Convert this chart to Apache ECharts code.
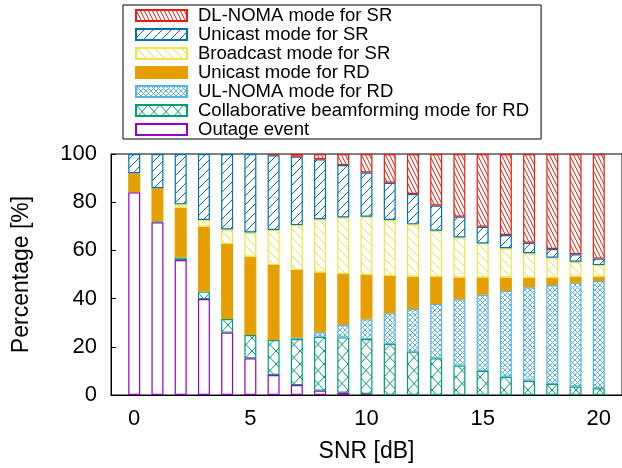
<!DOCTYPE html>
<html>
<head>
<meta charset="utf-8">
<script src="https://cdn.jsdelivr.net/npm/echarts@6/dist/echarts.min.js"></script>
<style>
  html, body { margin: 0; padding: 0; background: #fff; }
  #chart { width: 622px; height: 468px; }
</style>
</head>
<body>
<div id="chart"></div>
<script>
// SNR values (x axis)
const snr = [0, 1, 2, 3, 4, 5, 6, 7, 8, 9, 10, 11, 12, 13, 14, 15, 16, 17, 18, 19, 20];
const xTickLabels = ['0', '5', '10', '15', '20'];

// percentage of each mode (bottom to top of the stack)
const outage      = [84.1, 71.7, 56.0, 39.8, 25.9, 15.2, 8.3, 4.1, 1.8, 1.0, 0.4, 0, 0, 0, 0, 0, 0, 0, 0, 0, 0];
const collab      = [0, 0.3, 1.1, 3.1, 5.6, 9.7, 14.5, 19.1, 22.4, 22.9, 22.8, 21.2, 18.0, 15.2, 12.2, 10.0, 7.6, 5.9, 4.6, 3.5, 2.8];
const ulNoma      = [0, 0, 0, 0, 0, 0, 0, 0.6, 1.8, 5.1, 8.2, 12.7, 17.7, 22.6, 27.5, 31.6, 35.6, 38.8, 41.0, 43.1, 44.5];
const unicastRD   = [7.9, 13.8, 20.6, 26.9, 31.2, 32.5, 31.1, 28.1, 24.8, 21.2, 18.4, 15.6, 13.4, 11.3, 9.1, 7.2, 5.6, 4.0, 3.1, 2.5, 1.8];
const broadcastSR = [0, 0, 1.4, 2.8, 6.0, 10.0, 14.6, 18.6, 22.1, 23.5, 24.2, 23.1, 21.7, 19.1, 16.6, 14.1, 12.1, 10.1, 8.3, 6.2, 4.8];
const unicastSR   = [8.0, 14.2, 20.9, 27.4, 31.3, 32.6, 31.0, 28.4, 24.9, 21.7, 18.3, 15.5, 12.6, 10.4, 8.6, 6.9, 5.5, 4.4, 3.6, 3.1, 2.7];
const dlNoma      = [0, 0, 0, 0, 0, 0, 0.5, 1.1, 2.2, 4.6, 7.7, 11.9, 16.6, 21.4, 26.0, 30.2, 33.6, 36.8, 39.4, 41.6, 43.4];

const FONT = '"Liberation Sans", Arial, sans-serif';

// the axis runs from -1 to 21, so one empty slot is added at each end
const categories = ['-1'].concat(snr.map(String), ['21']);
const pad = arr => [null].concat(arr.map(v => (v > 0 ? v : null)), [null]);

// hatch pattern tile (w x h): dirs contains '/' and/or '\\'
function hatch(color, w, h, dirs, lw) {
  const c = document.createElement('canvas');
  c.width = w;
  c.height = h;
  const ctx = c.getContext('2d');
  ctx.fillStyle = '#fff';
  ctx.fillRect(0, 0, w, h);
  ctx.strokeStyle = color;
  ctx.lineWidth = lw || 1;
  ctx.beginPath();
  for (const k of [-w, 0, w]) {
    if (dirs.indexOf('/') >= 0) {
      ctx.moveTo(k, h);
      ctx.lineTo(k + w, 0);
    }
    if (dirs.indexOf('\\') >= 0) {
      ctx.moveTo(k, 0);
      ctx.lineTo(k + w, h);
    }
  }
  ctx.stroke();
  return { image: c, repeat: 'repeat' };
}

// series defs, stacked from bottom to top
const defs = [
  { name: 'Outage event', data: outage, border: '#9400d3', fill: '#ffffff' },
  { name: 'Collaborative beamforming mode for RD', data: collab, border: '#009e73', fill: hatch('#009e73', 12, 13, '/\\', 1) },
  { name: 'UL-NOMA mode for RD', data: ulNoma, border: '#56b4e9', fill: hatch('#56b4e9', 5, 5, '/\\', 1) },
  { name: 'Unicast mode for RD', data: unicastRD, border: '#e69f00', fill: '#e69f00' },
  { name: 'Broadcast mode for SR', data: broadcastSR, border: '#f0e442', fill: hatch('#f0e442', 9, 9, '\\', 1) },
  { name: 'Unicast mode for SR', data: unicastSR, border: '#0072b2', fill: hatch('#0072b2', 9, 9, '/', 1) },
  { name: 'DL-NOMA mode for SR', data: dlNoma, border: '#e51e10', fill: hatch('#e51e10', 4, 8, '\\', 1) }
];

const series = defs.map(d => ({
  name: d.name,
  type: 'bar',
  stack: 'total',
  barWidth: 12,
  data: pad(d.data),
  itemStyle: {
    color: d.fill,
    borderColor: d.border,
    borderWidth: 1.2
  },
  animation: false
}));

const showTick = (idx, val) => xTickLabels.indexOf(val) >= 0;

const myChart = echarts.init(document.getElementById('chart'), null, { renderer: 'canvas' });

const option = {
  backgroundColor: '#ffffff',
  animation: false,
  textStyle: { fontFamily: FONT, color: '#000' },
  legend: {
    orient: 'vertical',
    left: 123,
    top: 5,
    padding: [1, 12, 0, 12],
    itemGap: 0,
    itemWidth: 51,
    itemHeight: 11,
    borderColor: '#000',
    borderWidth: 1,
    selectedMode: false,
    icon: 'rect',
    data: [
      'DL-NOMA mode for SR',
      'Unicast mode for SR',
      'Broadcast mode for SR',
      'Unicast mode for RD',
      'UL-NOMA mode for RD',
      'Collaborative beamforming mode for RD',
      'Outage event'
    ],
    textStyle: {
      fontFamily: FONT,
      fontSize: 18.5,
      color: '#000',
      lineHeight: 18.7,
      padding: [0, 0, 0, 6]
    }
  },
  grid: {
    left: 111,
    top: 154,
    width: 513,
    bottom: 73,
    show: true,
    borderColor: '#000',
    borderWidth: 1,
    containLabel: false
  },
  xAxis: {
    type: 'category',
    data: categories,
    boundaryGap: false,
    name: 'SNR [dB]',
    nameLocation: 'middle',
    nameGap: 45,
    nameTextStyle: { fontFamily: FONT, fontSize: 23, color: '#000' },
    axisLine: { lineStyle: { color: '#000', width: 1 } },
    axisTick: { inside: true, length: 5, interval: showTick, lineStyle: { color: '#000' } },
    axisLabel: { interval: showTick, fontFamily: FONT, fontSize: 22, color: '#000', margin: 13 },
    splitLine: { show: false }
  },
  yAxis: {
    type: 'value',
    min: 0,
    max: 100,
    interval: 20,
    name: 'Percentage [%]',
    nameLocation: 'middle',
    nameGap: 78,
    nameTextStyle: { fontFamily: FONT, fontSize: 23, color: '#000' },
    axisLine: { show: true, lineStyle: { color: '#000', width: 1 } },
    axisTick: { show: true, inside: true, length: 5, lineStyle: { color: '#000' } },
    axisLabel: { fontFamily: FONT, fontSize: 22, color: '#000', margin: 14 },
    splitLine: { show: false }
  },
  series: series
};

myChart.setOption(option);
window.addEventListener('resize', () => myChart.resize());
</script>
</body>
</html>
